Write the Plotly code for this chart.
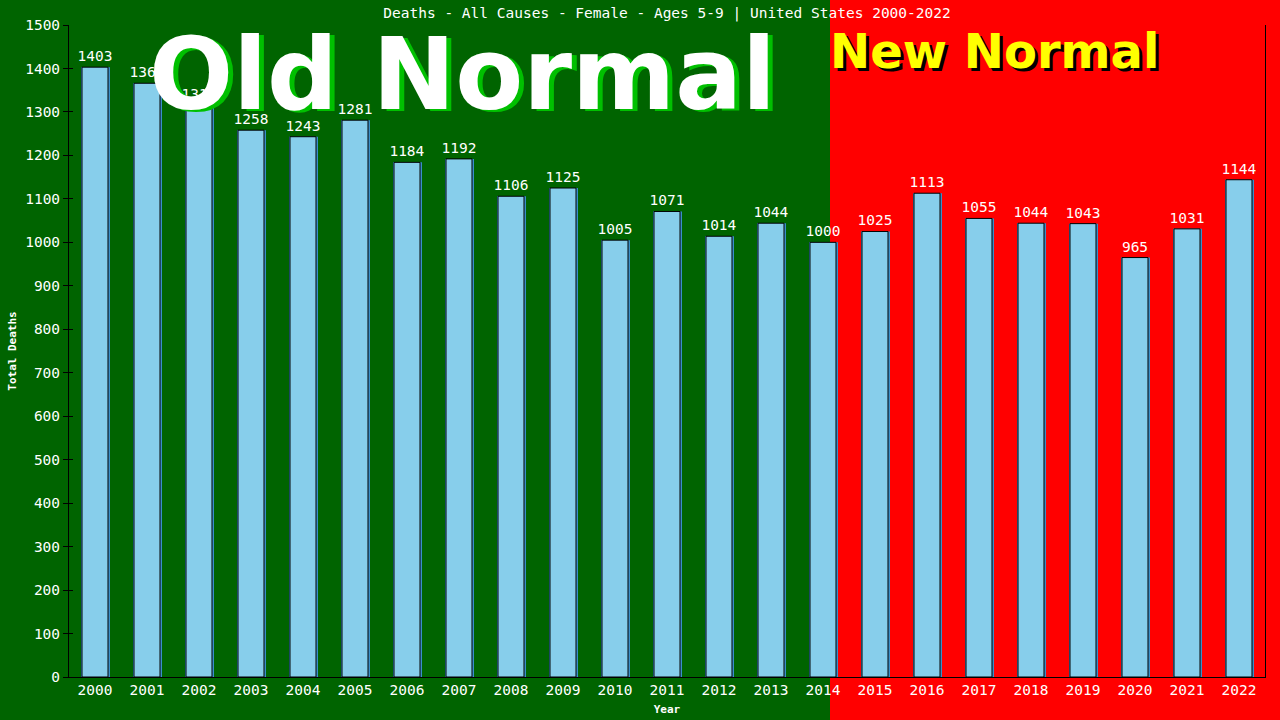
import plotly.graph_objects as go

years = [str(y) for y in range(2000, 2023)]
deaths = [1403, 1366, 1316, 1258, 1243, 1281, 1184, 1192, 1106, 1125, 1005, 1071,
          1014, 1044, 1000, 1025, 1113, 1055, 1044, 1043, 965, 1031, 1144]
y_ticks = list(range(0, 1501, 100))

title_text = "Deaths - All Causes - Female - Ages 5-9 | United States 2000-2022"

W, H = 1280, 720
L, R, T, B = 69, 15, 25, 43
pw, ph = W - L - R, H - T - B

def px(x):
    return (x - L) / pw

def py(y):
    return (H - B - y) / ph

mono = "DejaVu Sans Mono"
green_bg = "#006400"

fig = go.Figure()
# shadow bars
fig.add_trace(go.Bar(
    x=years, y=deaths, width=0.5 + 3 / 52, offset=-0.25 - 1 / 52,
    marker=dict(color="#3a8fc8", line=dict(width=0)),
    hoverinfo="skip", showlegend=False,
))
fig.add_trace(go.Bar(
    x=years, y=deaths, width=0.5, offset=-0.25,
    marker=dict(color="#87CEEB", line=dict(color="black", width=1)),
    text=[str(v) for v in deaths], textposition="outside", constraintext="none",
    textfont=dict(family=mono, size=14.5, color="white"),
    cliponaxis=False, showlegend=False,
))
# invisible trace for inner tick axis
fig.add_trace(go.Scatter(x=[years[0]], y=[0], yaxis="y2", mode="markers",
                         marker=dict(opacity=0, size=1), hoverinfo="skip", showlegend=False))

shapes = [
    dict(type="rect", xref="paper", yref="paper",
         x0=px(830), x1=px(W + 5), y0=py(H + 5), y1=py(-5),
         fillcolor="#ff0000", line=dict(width=0), layer="below"),
]

annotations = []
big = "DejaVu Sans"
annotations.append(dict(text="<b>Old Normal</b>", xref="paper", yref="paper",
                        x=px(462 + 5), y=py(74 + 3), showarrow=False,
                        xanchor="center", yanchor="middle",
                        font=dict(family=big, size=99, color="#00c000")))
annotations.append(dict(text="<b>Old Normal</b>", xref="paper", yref="paper",
                        x=px(462), y=py(74), showarrow=False,
                        xanchor="center", yanchor="middle",
                        font=dict(family=big, size=99, color="white")))
annotations.append(dict(text="<b>New Normal</b>", xref="paper", yref="paper",
                        x=px(994 + 3), y=py(51 + 3), showarrow=False,
                        xanchor="center", yanchor="middle",
                        font=dict(family=big, size=48, color="black")))
annotations.append(dict(text="<b>New Normal</b>", xref="paper", yref="paper",
                        x=px(994), y=py(51), showarrow=False,
                        xanchor="center", yanchor="middle",
                        font=dict(family=big, size=48, color="#ffff00")))

fig.update_layout(
    width=W, height=H,
    margin=dict(l=L, r=R, t=T, b=B, autoexpand=False),
    paper_bgcolor=green_bg, plot_bgcolor="rgba(0,0,0,0)",
    barmode="overlay",
    title=dict(text=title_text, x=0.5, xref="paper", y=1 - 13 / H, yanchor="middle",
               font=dict(family=mono, size=14.5, color="white")),
    shapes=shapes, annotations=annotations,
    xaxis=dict(type="category", range=[-0.5, len(years) - 0.5], automargin=False,
               showgrid=False, showline=True, linecolor="black",
               linewidth=1, ticks="", tickfont=dict(family=mono, size=14.5, color="white"),
               title=dict(text="<b>Year</b>", font=dict(family=mono, size=11, color="white"), standoff=7),
               zeroline=False),
    yaxis=dict(range=[0, 1500], tickvals=y_ticks, showgrid=False, showline=True,
               automargin=False,
               linecolor="black", linewidth=1, mirror=True, ticks="outside", ticklen=5,
               tickcolor="black", zeroline=False,
               tickfont=dict(family=mono, size=14.5, color="white"),
               title=dict(text="<b>Total Deaths</b>", font=dict(family=mono, size=11, color="white"),
                          standoff=6)),
    yaxis2=dict(range=[0, 1500], tickvals=y_ticks, overlaying="y", side="left",
                automargin=False,
                showgrid=False, showline=False, ticks="inside", ticklen=4,
                tickcolor="black", showticklabels=False, zeroline=False),
    font=dict(family=mono, color="white"),
)

fig.write_html("out.html", config={"displayModeBar": False},
               post_script="document.body.style.margin='0';document.body.style.background='" + green_bg + "';")
